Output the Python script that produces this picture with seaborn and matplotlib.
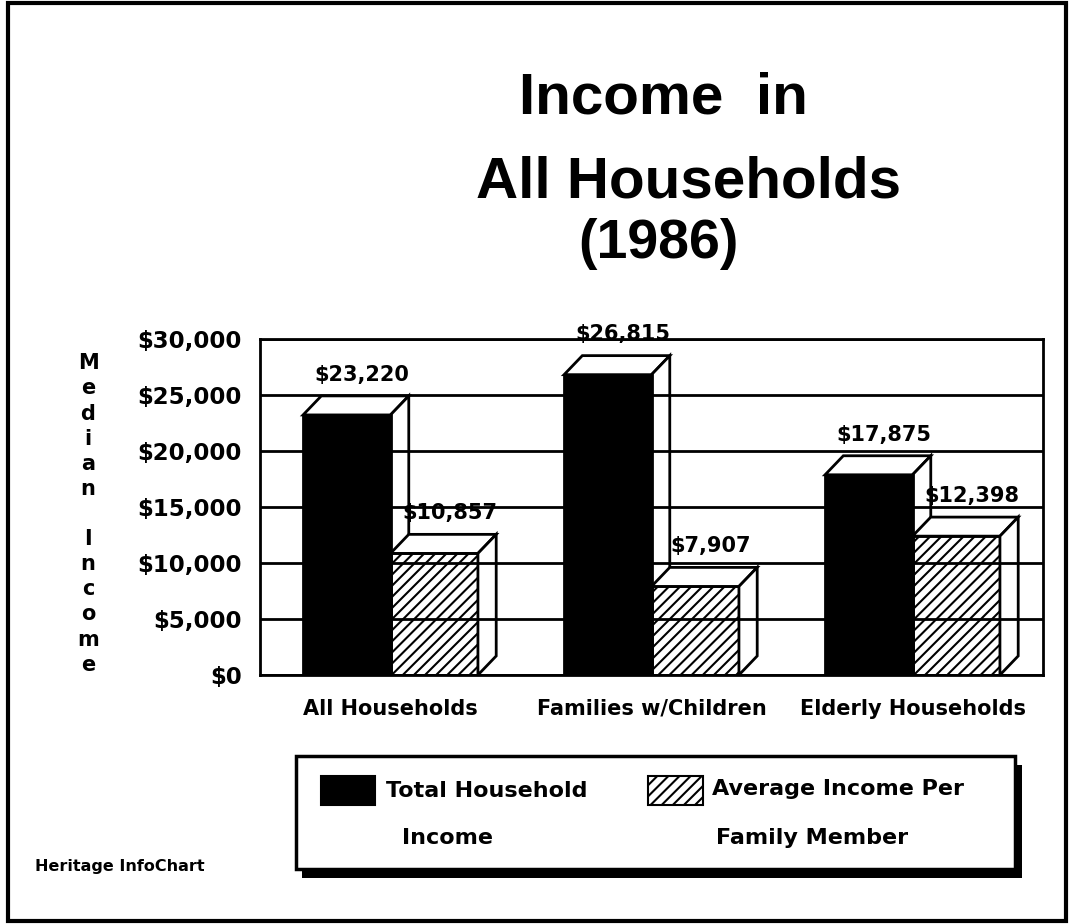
import pandas as pd
import matplotlib
matplotlib.use("Agg")
import matplotlib.pyplot as plt
from matplotlib.patches import Polygon, Rectangle
import seaborn as sns

# datos
categorias = ["All Households", "Families w/Children", "Elderly Households"]
series = ["total", "miembro"]
ingreso_total = [23220, 26815, 17875]
ingreso_miembro = [10857, 7907, 12398]
etiquetas_total = ["$23,220", "$26,815", "$17,875"]
etiquetas_miembro = ["$10,857", "$7,907", "$12,398"]
ticks_y = [0, 5000, 10000, 15000, 20000, 25000, 30000]
etiquetas_y = ["$0", "$5,000", "$10,000", "$15,000", "$20,000", "$25,000", "$30,000"]
leyenda_lineas = [("Total Household", "Income"), ("Average Income Per", "Family Member")]
titulo = ["Income  in", "All Households", "(1986)"]
eje_y = "Median Income"
fuente = "Heritage InfoChart"

df = pd.DataFrame({
    "grupo": categorias * 2,
    "serie": [series[0]] * 3 + [series[1]] * 3,
    "ingreso": ingreso_total + ingreso_miembro,
})

sns.set_theme(style="white")
plt.rcParams["font.family"] = ["DejaVu Sans"]
plt.rcParams["hatch.linewidth"] = 1.5
plt.rcParams["text.color"] = "black"
plt.rcParams["xtick.color"] = "black"
plt.rcParams["ytick.color"] = "black"

W, H = 1070, 924
fig = plt.figure(figsize=(W / 100, H / 100), dpi=100)
ax = fig.add_axes([260 / W, 1 - 675 / H, (1043 - 260) / W, (675 - 339) / H])

sns.barplot(
    data=df, x="grupo", y="ingreso", hue="serie",
    palette={series[0]: "black", series[1]: "white"},
    width=0.67, saturation=1, edgecolor="black", linewidth=2,
    legend=False, ax=ax,
)

ax.set_ylim(0, 30000)
ax.set_xlim(-0.5, 2.5)
ax.set_yticks(ticks_y, etiquetas_y)
ax.set_xlabel("")
ax.set_ylabel("")
ax.yaxis.grid(True, color="black", linewidth=2)
ax.xaxis.grid(False)
ax.set_axisbelow(False)  # rejilla por encima de las caras blancas
for s in ax.spines.values():
    s.set_color("black")
    s.set_linewidth(2)
ax.tick_params(axis="y", direction="out", length=9, width=2, colors="black",
               labelsize=16.5, pad=4)
ax.tick_params(axis="x", direction="out", length=8, width=2, colors="black",
               labelsize=15, pad=9)
for t in ax.get_yticklabels() + ax.get_xticklabels():
    t.set_fontweight("bold")

# efecto 3D: cara superior y lateral de cada barra
dx, dy = 0.07, 1700
for i, cont in enumerate(ax.containers):
    etiquetas = etiquetas_total if i == 0 else etiquetas_miembro
    for barra, txt in zip(cont, etiquetas):
        x, w, h = barra.get_x(), barra.get_width(), barra.get_height()
        if i == 0:
            barra.set_zorder(3)
            zc = 1
        else:
            barra.set_facecolor("white")
            barra.set_hatch("///")
            barra.set_zorder(1.5)
            zc = 1.6
        ax.add_patch(Polygon([(x, h), (x + dx, h + dy), (x + w + dx, h + dy), (x + w, h)],
                             closed=True, fc="white", ec="black", lw=2, zorder=zc))
        ax.add_patch(Polygon([(x + w, 0), (x + w + dx, dy), (x + w + dx, h + dy), (x + w, h)],
                             closed=True, fc="white", ec="black", lw=2, zorder=zc))
        ax.annotate(txt, (x + w / 2, h), xytext=(11, 29), textcoords="offset points",
                    ha="center", va="center", fontsize=15, fontweight="bold",
                    color="black", zorder=5, annotation_clip=False)

# titulo
fig.text(663 / W, 1 - 113 / H, titulo[0], ha="center", va="baseline",
         fontsize=42, family="Liberation Sans", fontweight="bold")
fig.text(689 / W, 1 - 197 / H, titulo[1], ha="center", va="baseline",
         fontsize=42, family="Liberation Sans", fontweight="bold")
fig.text(658 / W, 1 - 258 / H, titulo[2], ha="center", va="baseline",
         fontsize=40, family="Liberation Sans", fontweight="bold")

# etiqueta vertical
fig.text(88 / W, 1 - 514 / H, "\n".join(eje_y), ha="center", va="center",
         fontsize=15, fontweight="bold", linespacing=1.32)

fig.text(35 / W, 1 - 866 / H, fuente, ha="left", va="center",
         fontsize=11.5, fontweight="bold")

# leyenda dibujada a mano
def caja(x0, y0, x1, y1, **kw):
    return Rectangle((x0 / W, 1 - y1 / H), (x1 - x0) / W, (y1 - y0) / H,
                     transform=fig.transFigure, **kw)

fig.patches.append(caja(302, 765, 1022, 878, fc="black", ec="black", lw=0))
fig.patches.append(caja(296, 756, 1015, 869, fc="white", ec="black", lw=2.5))
fig.patches.append(caja(321, 776, 375, 805, fc="black", ec="black", lw=1.5))
fig.patches.append(caja(648, 776, 703, 805, fc="white", ec="black", lw=1.5, hatch="///"))
fig.text(386 / W, 1 - 791 / H, leyenda_lineas[0][0], ha="left", va="center",
         fontsize=16, fontweight="bold")
fig.text(402 / W, 1 - 838 / H, leyenda_lineas[0][1], ha="left", va="center",
         fontsize=16, fontweight="bold")
fig.text(712 / W, 1 - 789 / H, leyenda_lineas[1][0], ha="left", va="center",
         fontsize=16, fontweight="bold")
fig.text(716 / W, 1 - 838 / H, leyenda_lineas[1][1], ha="left", va="center",
         fontsize=16, fontweight="bold")

# marco exterior
fig.patches.append(caja(8, 3, 1066, 921, fc="none", ec="black", lw=3))

fig.savefig("out.png", dpi=100)
